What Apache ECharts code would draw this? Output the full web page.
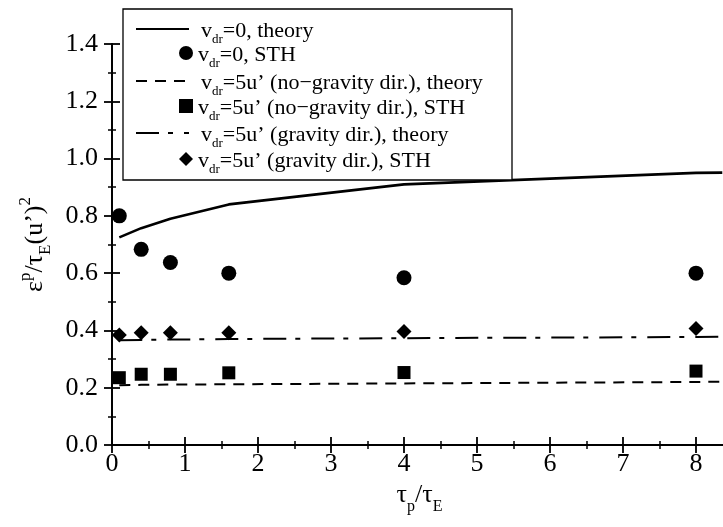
<!DOCTYPE html>
<html>
<head>
<meta charset="utf-8">
<script src="https://cdn.jsdelivr.net/npm/echarts@6/dist/echarts.min.js"></script>
<style>html,body{margin:0;padding:0;background:#fff}#c{width:723px;height:527px}</style>
</head>
<body>
<div id="c"></div>
<script>
// ---- data ----
const xSTH = [0.1, 0.4, 0.8, 1.6, 4, 8];
const xTheory = [0.1, 0.4, 0.8, 1.6, 4, 8, 8.36];
const theoryV0 = [0.725, 0.757, 0.79, 0.84, 0.91, 0.95, 0.951];
const theoryNoGrav = [0.209, 0.21, 0.211, 0.212, 0.215, 0.22, 0.221];
const theoryGrav = [0.366, 0.367, 0.368, 0.37, 0.373, 0.377, 0.378];
const sthV0 = [0.80, 0.683, 0.637, 0.60, 0.584, 0.60];
const sthNoGrav = [0.235, 0.247, 0.247, 0.252, 0.253, 0.258];
const sthGrav = [0.384, 0.392, 0.392, 0.392, 0.396, 0.407];
const yTicks = ['0.0','0.2','0.4','0.6','0.8','1.0','1.2','1.4'];
const xTicks = ['0','1','2','3','4','5','6','7','8'];
const legendText = {
  t0: '{a|v}{s|dr}{a|=0, theory}',
  s0: '{a|v}{s|dr}{a|=0, STH}',
  t1: '{a|v}{s|dr}{a|=5u’ (no−gravity dir.), theory}',
  s1: '{a|v}{s|dr}{a|=5u’ (no−gravity dir.), STH}',
  t2: '{a|v}{s|dr}{a|=5u’ (gravity dir.), theory}',
  s2: '{a|v}{s|dr}{a|=5u’ (gravity dir.), STH}'
};

const F = 'Liberation Serif';
const pairs = (xs, ys) => xs.map((x, i) => [x, ys[i]]);
const legendRich = {
  g: {width: 7},
  a: {fontFamily: F, fontSize: 22, color: '#000', lineHeight: 26, verticalAlign: 'bottom'},
  s: {fontFamily: F, fontSize: 13, color: '#000', lineHeight: 26, verticalAlign: 'bottom', padding: [0, 0, -4, 0]}
};

const chart = echarts.init(document.getElementById('c'), null, {renderer: 'canvas'});
const axisCommon = {
  axisLine: {lineStyle: {color: '#000', width: 1.8}},
  axisTick: {inside: true, length: 8, lineStyle: {color: '#000', width: 1.8}},
  minorTick: {show: true, splitNumber: 2, length: 4, lineStyle: {color: '#000', width: 1.5}},
  splitLine: {show: false}
};
chart.setOption({
  animation: false,
  backgroundColor: '#fff',
  grid: {left: 112, right: -46, top: 44, bottom: 82, outerBoundsMode: 'none', containLabel: false},
  xAxis: [
    Object.assign({}, axisCommon, {
      type: 'value', position: 'bottom', min: 0, max: 9, interval: 1,
      axisLabel: {fontFamily: F, fontSize: 26, color: '#000', margin: 6,
        formatter: v => xTicks[Math.round(v)] || ''},
      name: '{a|τ}{s|p}{a|/τ}{s|E}', nameLocation: 'middle', nameGap: 29,
      nameTextStyle: {padding: [0, 42, 0, 0], rich: {
        a: {fontFamily: F, fontSize: 26, color: '#000', lineHeight: 32, verticalAlign: 'bottom'},
        s: {fontFamily: F, fontSize: 16, color: '#000', lineHeight: 32, verticalAlign: 'bottom', padding: [0, 0, -7, 0]}
      }}
    }),
    Object.assign({}, axisCommon, {
      type: 'value', position: 'top', min: 0, max: 9, interval: 1,
      axisLabel: {show: false}
    })
  ],
  yAxis: [
    Object.assign({}, axisCommon, {
      type: 'value', position: 'left', min: 0, max: 1.4, interval: 0.2,
      axisLabel: {fontFamily: F, fontSize: 26, color: '#000', margin: 14,
        formatter: v => yTicks[Math.round(v / 0.2)]},
      name: '{a|ε}{sp|p}{a|/τ}{sb|E}{a|(u’)}{sp|2}', nameLocation: 'middle', nameGap: 58,
      nameTextStyle: {rich: {
        a: {fontFamily: F, fontSize: 26, color: '#000', lineHeight: 38, verticalAlign: 'middle'},
        sp: {fontFamily: F, fontSize: 17, color: '#000', lineHeight: 38, verticalAlign: 'top', padding: [1, 0, 0, 0]},
        sb: {fontFamily: F, fontSize: 17, color: '#000', lineHeight: 38, verticalAlign: 'bottom', padding: [0, 0, 0, 0]}
      }}
    }),
    Object.assign({}, axisCommon, {
      type: 'value', position: 'right', min: 0, max: 1.4, interval: 0.2,
      axisLabel: {show: false}
    })
  ],
  legend: [
    {
      data: ['t0', 't1', 't2'], orient: 'vertical', left: 135, top: 20, padding: 0,
      itemWidth: 53, itemHeight: 14, itemGap: 26, z: 120, selectedMode: false,
      itemStyle: {opacity: 0},
      formatter: n => '{g|}' + legendText[n],
      textStyle: {rich: legendRich}
    },
    {
      data: ['s0', 's1', 's2'], orient: 'vertical', left: 179, top: 44, padding: 0,
      itemWidth: 14, itemHeight: 14, itemGap: 27, z: 120, selectedMode: false,
      formatter: n => legendText[n],
      textStyle: {rich: legendRich}
    }
  ],
  graphic: [{
    type: 'rect', z: 110, shape: {x: 123, y: 9, width: 389, height: 171},
    style: {fill: '#fff', stroke: '#000', lineWidth: 1.3}
  }],
  series: [
    {name: 't0', type: 'line', data: pairs(xTheory, theoryV0), symbol: 'none',
      lineStyle: {color: '#000', width: 2.6, type: 'solid'}, itemStyle: {color: '#000'}},
    {name: 't1', type: 'line', data: pairs(xTheory, theoryNoGrav), symbol: 'none',
      lineStyle: {color: '#000', width: 2, type: [11, 8]}, itemStyle: {color: '#000'}},
    {name: 't2', type: 'line', data: pairs(xTheory, theoryGrav), symbol: 'none',
      lineStyle: {color: '#000', width: 2, type: [23, 9, 5, 11]}, itemStyle: {color: '#000'}},
    {name: 's0', type: 'scatter', data: pairs(xSTH, sthV0), symbol: 'circle', symbolSize: 15,
      itemStyle: {color: '#000', opacity: 1}},
    {name: 's1', type: 'scatter', data: pairs(xSTH, sthNoGrav), symbol: 'rect', symbolSize: 13,
      itemStyle: {color: '#000', opacity: 1}},
    {name: 's2', type: 'scatter', data: pairs(xSTH, sthGrav), symbol: 'diamond', symbolSize: [15, 15],
      itemStyle: {color: '#000', opacity: 1}}
  ]
});
</script>
</body>
</html>
